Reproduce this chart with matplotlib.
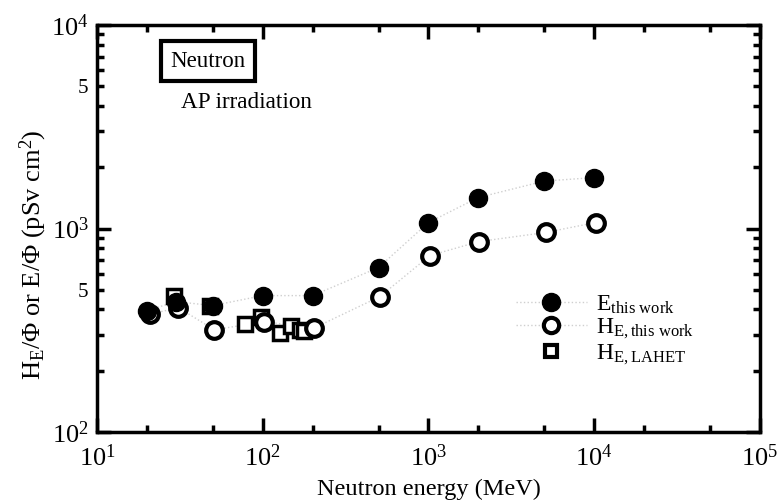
import numpy as np
import matplotlib.pyplot as plt
from matplotlib.ticker import LogLocator, FixedLocator, FixedFormatter, NullFormatter

plt.rcParams['font.family'] = ['Liberation Serif', 'DejaVu Serif']
plt.rcParams['mathtext.fontset'] = 'custom'
plt.rcParams['mathtext.rm'] = 'Liberation Serif'
plt.rcParams['mathtext.it'] = 'Liberation Serif'

# 数据
e_energy = [20, 30, 50, 100, 200, 500, 1000, 2000, 5000, 10000]
e_this = [395, 437, 418, 468, 468, 643, 1070, 1420, 1710, 1780]
h_energy = [21, 31, 51, 102, 205, 510, 1020, 2020, 5100, 10200]
h_this = [380, 408, 318, 348, 325, 463, 736, 863, 956, 1070]
lahet_energy = [29, 48, 78, 97, 128, 148, 168, 178]
lahet_val = [468, 415, 340, 369, 307, 333, 316, 312]

fig = plt.figure(figsize=(7.78, 5.03), dpi=100)
ax = fig.add_axes([0.1247, 0.1412, 0.852, 0.809])

line_c = '#cfcfcf'
ax.plot(e_energy, e_this, color=line_c, linestyle=':', linewidth=1, zorder=1)
ax.plot(h_energy, h_this, color=line_c, linestyle=':', linewidth=1, zorder=1)
ax.plot(lahet_energy, lahet_val, 's', markersize=10, markerfacecolor='white',
        markeredgecolor='black', markeredgewidth=2.5, linestyle='none', zorder=3)
ax.plot(h_energy, h_this, 'o', markersize=12, markerfacecolor='white',
        markeredgecolor='black', markeredgewidth=3, linestyle='none', zorder=3)
ax.plot(e_energy, e_this, 'o', markersize=13, color='black', linestyle='none', zorder=4)

# 图例
h1, = ax.plot([], [], 'o', markersize=13, markerfacecolor='black', markeredgecolor='black',
              color=line_c, linestyle=':', linewidth=1)
h2, = ax.plot([], [], 'o', markersize=11, markerfacecolor='white', markeredgecolor='black',
              markeredgewidth=3, color=line_c, linestyle=':', linewidth=1)
h3, = ax.plot([], [], 's', markersize=9, markerfacecolor='white', markeredgecolor='black',
              markeredgewidth=3, linestyle='none')
ax.legend([h1, h2, h3],
          ['E$_{\\mathrm{this\\ work}}$', 'H$_{\\mathrm{E,this\\ work}}$', 'H$_{\\mathrm{E,LAHET}}$'],
          loc='center left', bbox_to_anchor=(0.6, 0.25), frameon=False, fontsize=17,
          handlelength=3.0, handletextpad=0.4, labelspacing=0.05, markerfirst=True)

ax.set_xscale('log')
ax.set_yscale('log')
ax.set_xlim(10, 1e5)
ax.set_ylim(100, 1e4)

ax.xaxis.set_minor_locator(LogLocator(base=10, subs=[2, 5]))
ax.xaxis.set_minor_formatter(NullFormatter())
minor_y = [200, 300, 400, 500, 600, 700, 800, 900, 2000, 3000, 4000, 5000, 6000, 7000, 8000, 9000]
ax.yaxis.set_minor_locator(FixedLocator(minor_y))
ax.yaxis.set_minor_formatter(FixedFormatter(['', '', '', '5', '', '', '', '', '', '', '', '5', '', '', '', '']))

ax.tick_params(which='both', direction='in', top=True, right=True, width=2.5, labelsize=19)
ax.tick_params(which='major', length=10)
ax.tick_params(which='minor', length=5)
ax.tick_params(axis='x', which='both', pad=9)
ax.tick_params(axis='y', which='both', pad=6)
ax.tick_params(axis='y', which='minor', labelsize=15)
for s in ax.spines.values():
    s.set_linewidth(2.5)

ax.set_xlabel('Neutron energy (MeV)', fontsize=17.5, labelpad=6)
ax.set_ylabel('H$_{\\mathrm{E}}$/Φ or E/Φ (pSv cm$^{2}$)', fontsize=19)
ax.yaxis.set_label_coords(-0.072, 0.435)

ax.text(0.111, 0.898, 'Neutron', transform=ax.transAxes, fontsize=16.5, va='baseline',
        bbox=dict(boxstyle='square,pad=0.4', facecolor='white', edgecolor='black', linewidth=3))
ax.text(0.1267, 0.796, 'AP irradiation', transform=ax.transAxes, fontsize=16.7, va='baseline')

plt.savefig('out.png', dpi=100)
